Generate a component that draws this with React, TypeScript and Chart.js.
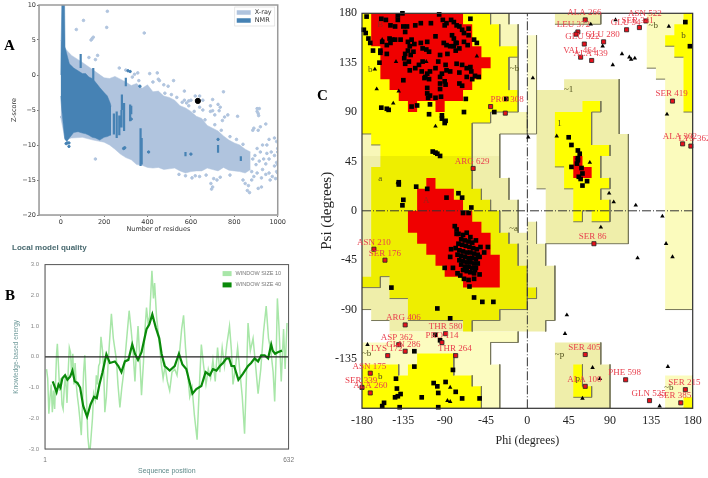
import React, { useEffect, useRef } from "react";
import { Chart, registerables } from "chart.js";

Chart.register(...registerables);

type P = number[];

// ---------- Panel A ----------
const aXTicks = [0, 200, 400, 600, 800, 1000];
const aYTicks = [10, 5, 0, -5, -10, -15, -20];
const xrayX = [0, 20, 50, 100, 150, 200, 225, 250, 275, 300, 325, 350, 375, 400, 425, 450, 475, 500, 525, 550, 575, 600, 625, 650, 675, 700, 725, 750, 775, 800, 825, 850, 875];
const xrayUpper = [5, 3.8, 2.8, 1.8, 0.7, -0.4, -0.5, -0.2, -0.6, -1, -1.5, -1.2, -1.9, -1.4, -2.4, -2.3, -3, -3.2, -3.6, -4.4, -4.7, -5.2, -5.9, -6.2, -7.2, -7.6, -8, -8.7, -9.3, -9.7, -10, -10.6, -11];
const xrayLower = [-6, -9.2, -9, -8.9, -9.3, -9.6, -10, -10.6, -11.3, -11.8, -12.1, -12.8, -12.9, -13.2, -13.3, -13.2, -13.5, -13.4, -13.3, -13.7, -14, -13.8, -13.7, -13.7, -13.3, -13.5, -13.7, -13.2, -13.6, -13.7, -13.8, -14, -13.5];
const xrayDots: P[] = [
  [105, 7.8], [72, 6.5], [215, 9.1], [212, 6.8], [385, 6], [145, 5.2], [140, 5], [150, 5.4], [170, 2.8], [160, 2.2],
  [130, 2.5], [270, 1], [300, 0.7], [355, 0.3], [340, 0.1], [410, 0.2], [445, 0.3], [330, -0.3], [360, -0.8], [520, -0.8],
  [450, -0.6], [455, -0.8], [425, -1], [475, -1.4], [495, -1.6], [570, -2.3], [750, -2.4], [620, -3], [640, -3], [655, -3.6],
  [600, -3.6], [590, -3.7], [580, -4], [570, -3.6], [700, -3.5], [725, -4.2], [690, -4.4], [735, -4.6], [640, -4.6], [655, -5],
  [690, -5.2], [700, -5.1], [730, -5.1], [710, -5.7], [755, -6], [770, -5.7], [745, -6.5], [815, -5.9], [905, -4.8], [915, -4.8],
  [905, -5.2], [910, -5.5], [912, -5.8], [890, -7.6], [885, -7.9], [920, -7.4], [945, -7], [910, -7.9], [985, -9], [960, -9.2],
  [995, -9.5], [1000, -10.5], [160, -12], [700, -16], [692, -15.5], [695, -16.3], [720, -15], [705, -14.8], [860, -16.5],
  [870, -16.8], [850, -15.5], [840, -15], [865, -15.8], [910, -16.2], [925, -16], [880, -15], [890, -14.5], [930, -13.5],
  [960, -14], [975, -14.5], [990, -14.8], [1000, -14], [985, -13], [945, -12.7], [960, -12], [920, -11], [905, -10.5], [930, -10],
  [950, -10], [970, -11], [985, -11.5], [995, -12.5], [1000, -11], [15, -6], [5, -6], [885, -12], [895, -11.5], [900, -12.8],
  [915, -12.3], [935, -12], [950, -11.2], [880, -13.8], [905, -14], [925, -14.7], [945, -14.2], [965, -15], [1000, -12.8], [995, -13.8],
  [480, -2.6], [510, -2.8], [535, -3.2], [560, -3.9], [590, -4.4], [615, -5.2], [665, -6.4], [710, -7.1], [740, -7.9], [780, -8.8],
  [810, -9.2], [840, -9.9], [605, -14.7], [620, -14.4], [575, -14.4], [640, -14.5], [545, -14.2], [670, -14.3], [735, -14.6], [780, -14.3],
];
const nmrX = [0, 5, 18, 20, 28, 40, 60, 80, 100, 115, 130, 145, 160, 180, 200, 215, 228, 232];
const nmrUpper = [0, 10, 10, 4, 3, 1.6, 1, 0.6, 0.2, 0.2, -0.3, -0.5, -1, -1.8, -2.5, -3, -4, -4.5];
const nmrLower = [-3, -5, -9, -9.2, -9.5, -9, -8.2, -8.1, -8.3, -8.4, -8.6, -8.9, -9, -9.3, -8.9, -8.8, -8.6, -8.6];
const nmrStreaks: (P | null)[] = [
  [92, 3], [92, 1], null, [245, -5.5], [245, -8.5], null, [258, -5.2], [258, -9], null, [270, -5.8], [270, -8.6], null,
  [282, -2.8], [282, -5], null, [292, -4], [292, -8], null, [300, -0.4], [300, -1.6], null, [320, -4.2], [320, -6.6], null,
  [325, -4.4], [325, -5.6], null, [280, -5], [280, -7.5], null, [368, -7.6], [368, -13], null, [373, -9], [373, -12.8], null,
  [725, -10], [725, -11.1], null, [830, -11.6], [830, -12.3], null, [575, -11], [575, -11.6], null, [150, 1], [150, -1], null,
];
const nmrDots: P[] = [
  [310, 0.6], [320, 0.5], [365, -1.6], [325, -6.3], [295, -10.4], [290, -10.5], [405, -11], [725, -9.2], [600, -11.3],
  [30, -9.7], [25, -9.8], [38, -10.2], [38, -9.7],
];
const targetPoint: P[] = [[632, -3.7]];
const aLegend: [string, string][] = [["X-ray", "#b0c4de"], ["NMR", "#4682b4"]];

// ---------- Panel B ----------
const bYTicks = [3, 2, 1, 0, -1, -2, -3];
const bXTicks = [1, 632];
const win10Res = [
  5, 8, 11, 14, 17, 20, 23, 26, 29, 31, 33, 36, 39, 42, 45, 48, 51, 54, 58, 61, 64, 67, 70, 73, 76, 79, 82, 85, 88, 92,
  95, 98, 101, 104, 108, 112, 115, 118, 121, 124, 127, 131, 134, 137, 140, 143, 146, 150, 153, 156, 160, 165, 173, 178, 186, 190, 195, 200, 206, 212,
  219, 224, 229, 234, 238, 242, 246, 251, 256, 260, 264, 268, 272, 278, 282, 285, 290, 296, 302, 307, 312, 318, 324, 330, 337, 343, 350, 355, 360, 365,
  371, 376, 382, 388, 395, 400, 406, 412, 418, 424, 430, 436, 442, 448, 454, 460, 466, 472, 479, 484, 488, 494, 500, 506, 512, 518, 523, 527, 533, 540,
  546, 553, 560, 567, 574, 580, 586, 592, 596, 600, 603, 607, 613, 619, 623, 628,
];
const win10Val = [
  -0.4, -0.7, -1.85, -1.3, -0.9, -1.8, -1.1, -1.7, -0.6, 0.1, 0.42, -0.3, -1.1, -0.7, -1.55, -1.7, -1, -0.6, -1.5, -0.5, 0.3, 0.15, -0.6, 0.1, -0.9, -0.2, -0.9, -1.3, -1.6, -2.1,
  -2.55, -1.6, -0.5, 0.05, -1.2, -2.6, -3, -3, -2.5, -2, -1.2, -1.4, -0.6, -0.9, -0.3, -0.2, 0.65, 0.2, -0.4, -1.8, -1.3, -0.1, 1.4, 0.6, -0.1, -0.9, -1.65, -1, -0.4, 0.5,
  1.5, 0.9, 0.2, -0.8, 0.2, 1, 0.1, -1.25, -0.2, 0.9, 1.6, 1.1, 1.3, 2.8, 1.9, 2.4, 1.3, 0.6, -0.2, -0.7, -0.3, -0.8, -1.1, -0.5, -0.4, -0.6, 0.2, 0.9, 1.35, 0.3,
  -0.6, -1.3, -1, -1.9, -2.7, -1.2, 0.4, -0.3, -0.9, -0.4, -0.7, -0.1, -0.8, 0.3, -0.5, 0.3, -0.3, 0.4, 1, 0.2, -0.9, -0.4, 0.3, -0.5, -1.3, -2.5, -0.6, 1.1, 0.2, 0.6,
  -0.2, -1.2, -0.4, 0.8, 1.65, 0.6, 0.2, -0.5, -1.45, 0.1, 1.9, 1, -0.8, 0.9, -0.4, 1.1,
];
const win40Res = [
  21, 27, 31, 36, 41, 46, 53, 59, 66, 72, 78, 85, 92, 100, 110, 119, 128, 135, 142, 150, 160, 169, 182, 191, 199, 208, 217, 227, 234, 242, 251, 257, 264, 271, 279, 288,
  297, 303, 311, 324, 337, 348, 357, 367, 376, 383, 393, 406, 417, 428, 436, 445, 454, 462, 471, 478, 484, 491, 502, 514, 527, 535, 544, 553, 561, 570, 579, 587, 591, 597, 604, 615,
];
const win40Val = [
  -0.8, -1, -1.15, -0.9, -1, -0.7, -0.6, -0.75, -0.65, -0.45, -0.8, -0.85, -1, -1.6, -1.95, -1.55, -1.3, -1.35, -0.9, -0.5, 0.08, -0.2, -0.15, -0.3, -0.5, -0.15, -0.1, 0.4, 0.1, -0.1, 0.15, 0.5, 0.9, 1.05, 1.38, 0.95,
  0.6, 0.1, -0.3, -0.45, -0.3, 0.1, -0.25, -0.4, -0.85, -1.2, -1.05, -0.95, -0.5, -0.6, -0.4, -0.45, -0.3, -0.2, -0.05, -0.05, -0.3, -0.3, -0.75, -0.55, -0.3, -0.2, -0.05, -0.15, 0.05, 0.05, -0.05, 0.4, 0.2, 0.1, 0.15, 0.2,
];
const zeroLine: P[] = [[1, 0], [632, 0]];
const bLegend: [string, string][] = [["WINDOW SIZE 10", "#a8e6a8"], ["WINDOW SIZE 40", "#0a8a0a"]];

// ---------- Panel C ----------
const cXTicks = [-180, -135, -90, -45, 0, 45, 90, 135, 180];
const cYTicks = [180, 135, 90, 45, 0, -45, -90, -135];
const paleTop: P[] = [[-180, 180], [-20, 180], [-20, 170], [-10, 170], [-10, 90], [0, 90], [0, 70], [-30, 70], [-30, 50], [-180, 50]];
const paleColumn: P[] = [[0, 160], [10, 160], [10, 70], [0, 70]];
const paleMid: P[] = [[-180, 50], [-30, 50], [-30, 30], [-20, 30], [-20, 10], [-10, 10], [-10, -20], [0, -20], [0, -10], [10, -10], [10, -30], [20, -30], [20, -50], [30, -50], [30, -100], [20, -100], [20, -110], [-150, -110], [-150, -100], [-170, -100], [-170, -90], [-180, -90]];
const paleBottom: P[] = [[-150, -110], [-10, -110], [-10, -120], [-40, -120], [-40, -140], [-30, -140], [-30, -180], [-180, -180], [-180, -120], [-150, -120]];
const paleOne: P[] = [[40, 120], [100, 120], [100, 70], [110, 70], [110, -30], [20, -30], [20, 20], [10, 20], [10, 110], [40, 110]];
const paleRight: P[] = [[130, 180], [180, 180], [180, -90], [150, -90], [150, 120], [140, 120], [140, 130], [130, 130]];
const paleTopCentre: P[] = [[30, 180], [80, 180], [80, 170], [30, 170]];
const paleP: P[] = [[30, -120], [80, -120], [80, -140], [90, -140], [90, -180], [30, -180]];
const paleCorner: P[] = [[150, -150], [180, -150], [180, -180], [150, -180]];
const yellowTop: P[] = [[-180, 180], [-40, 180], [-40, 170], [-30, 170], [-30, 150], [-10, 150], [-10, 140], [-20, 140], [-20, 110], [-10, 110], [-10, 90], [-40, 90], [-40, 80], [-60, 80], [-60, 50], [-160, 50], [-160, 60], [-170, 60], [-170, 70], [-180, 70]];
const yellowMid: P[] = [[-160, 50], [-60, 50], [-60, 20], [-50, 20], [-50, 10], [-40, 10], [-40, 0], [-30, 0], [-30, -20], [-20, -20], [-20, -30], [-10, -30], [-10, -50], [0, -50], [0, -90], [-30, -90], [-30, -100], [-60, -100], [-60, -110], [-70, -110], [-70, -100], [-130, -100], [-130, -80], [-150, -80], [-150, -60], [-160, -60], [-160, -70], [-180, -70], [-180, -60], [-170, -60], [-170, 40], [-160, 40]];
const yellowLow: P[] = [[-180, -140], [-140, -140], [-140, -150], [-130, -150], [-130, -140], [-120, -140], [-120, -130], [-80, -130], [-80, -150], [-60, -150], [-60, -160], [-50, -160], [-50, -180], [-180, -180]];
const yellowOne: P[] = [[60, 100], [80, 100], [80, 90], [70, 90], [70, 60], [90, 60], [90, 50], [80, 50], [80, 30], [90, 30], [90, 20], [80, 20], [80, 10], [90, 10], [90, -10], [70, -10], [70, 0], [60, 0], [60, -10], [50, -10], [50, 20], [40, 20], [40, 40], [30, 40], [30, 90], [60, 90]];
const yellowRight: P[] = [[170, 180], [180, 180], [180, 90], [170, 90], [170, 140], [160, 140], [160, 150], [150, 150], [150, 160], [160, 160], [160, 170], [170, 170]];
const yellowTab: P[] = [[0, -70], [10, -70], [10, -80], [0, -80]];
const yellowP: P[] = [[50, -140], [60, -140], [60, -160], [70, -160], [70, -170], [50, -170]];
const yellowCorner: P[] = [[170, -170], [180, -170], [180, -180], [170, -180]];
const redB: P[] = [[-170, 180], [-70, 180], [-70, 170], [-60, 170], [-60, 150], [-50, 150], [-50, 140], [-40, 140], [-40, 130], [-50, 130], [-50, 120], [-60, 120], [-60, 110], [-70, 110], [-70, 100], [-90, 100], [-90, 90], [-100, 90], [-100, 100], [-120, 100], [-120, 90], [-130, 90], [-130, 100], [-140, 100], [-140, 110], [-150, 110], [-150, 120], [-160, 120], [-160, 150], [-170, 150]];
const redA: P[] = [[-110, 30], [-100, 30], [-100, 20], [-80, 20], [-80, 10], [-70, 10], [-70, 0], [-60, 0], [-60, -10], [-50, -10], [-50, -20], [-40, -20], [-40, -40], [-30, -40], [-30, -70], [-70, -70], [-70, -60], [-90, -60], [-90, -50], [-100, -50], [-100, -40], [-110, -40], [-110, -30], [-120, -30], [-120, -20], [-130, -20], [-130, 0], [-120, 0], [-120, 20], [-110, 20]];
const redOne: P[] = [[50, 50], [60, 50], [60, 40], [70, 40], [70, 30], [50, 30]];

const blackSquares: P[] = [
  [-175, 177], [-178, 165], [-176, 162], [-173, 157], [-171, 153], [-168, 146], [-160, 146], [-161, 135], [-159, 94], [-153, 93], [-151, 92],
  [-103, 54], [-100, 53], [-98, 52], [-95, 50], [-140, 26], [-140, 24], [-121, 22], [-109, 20], [-135, 10], [-136, 5], [-75, 16], [-88, 12], [-71, 12], [-61, 3], [-70, -2], [-64, -2],
  [-93, 87], [-93, 84], [-89, 82], [-90, 80], [-107, 88], [-120, 96], [-126, 95], [-106, 97], [-69, 90], [-67, 102], [-23, 102], [-36, 90], [-62, 175],
  [-148, -70], [-98, -89], [-84, -98], [-58, -79], [-49, -83], [-37, -83], [-100, -113], [-95, -118], [-123, -128], [-123, -142], [-81, -145], [-143, -153], [-142, -162], [-138, -167], [-144, -170], [-141, -169],
  [-156, -175], [-158, -178], [-139, -179], [-115, -170], [-102, -157], [-98, -160], [-97, -166], [-89, -156], [-78, -165], [-71, -171], [-52, -171], [-97, -179],
  [172, 172], [177, 150], [45, 67], [48, 60], [55, 55], [57, 52], [55, 48], [54, 43], [48, 40], [59, 39], [60, 34], [56, 31], [58, 29], [65, 27], [60, 23], [55, 46],
  [-141, 178], [-136, 180], [-96, 179], [-159, 175], [-154, 174], [-141, 174], [-116, 171], [-122, 169], [-105, 171], [-92, 174], [-88, 171], [-83, 174], [-80, 172], [-77, 169], [-74, 168], [-90, 169],
  [-149, 169], [-144, 168], [-135, 168], [-131, 168], [-133, 163], [-71, 165], [-69, 162], [-64, 166], [-82, 160], [-100, 159], [-109, 154], [-80, 157], [-78, 153], [-64, 160],
  [-158, 154], [-150, 157], [-147, 156], [-144, 156], [-138, 156], [-149, 153], [-153, 151], [-130, 154], [-126, 156], [-128, 150], [-123, 152], [-116, 153], [-114, 148], [-110, 147], [-107, 145], [-130, 146], [-133, 143], [-134, 139], [-127, 142], [-124, 145],
  [-91, 153], [-88, 151], [-84, 150], [-80, 150], [-77, 153], [-74, 148], [-78, 146], [-69, 154], [-65, 151], [-58, 156], [-55, 153], [-87, 143], [-95, 142], [-153, 143], [-160, 144],
  [-133, 134], [-129, 136], [-114, 136], [-118, 133], [-97, 136], [-100, 130], [-77, 134], [-71, 133], [-66, 130], [-62, 131], [-89, 133], [-61, 127], [-57, 123], [-66, 122], [-74, 126], [-84, 127], [-88, 128], [-93, 125], [-95, 122], [-106, 127], [-109, 125], [-111, 122],
  [-128, 128], [-122, 130], [-115, 127], [-112, 121], [-107, 120], [-135, 119], [-60, 120], [-53, 122], [-90, 118], [-95, 116], [-89, 115], [-109, 112], [-95, 111], [-74, 116], [-71, 114], [-109, 107], [-106, 105], [-100, 103], [-94, 104], [-108, 103],
  [-79, -14], [-77, -17], [-75, -21], [-77, -21], [-83, -35], [-84, -42], [-90, -52], [-81, -52], [-76, -57], [-73, -59], [-69, -62], [-64, -63], [-58, -62], [-63, -69], [-52, -58], [-43, -33], [-47, -38], [-57, -54],
  [-70, -22], [-66, -20], [-62, -24], [-72, -26], [-68, -27], [-64, -28], [-60, -29], [-56, -27], [-75, -30], [-71, -31], [-67, -32], [-63, -33], [-59, -34], [-55, -35], [-51, -33], [-78, -34], [-74, -36], [-70, -37], [-66, -38], [-62, -38], [-58, -39], [-54, -40],
  [-76, -40], [-72, -41], [-68, -42], [-64, -43], [-60, -43], [-56, -44], [-52, -42], [-74, -45], [-70, -46], [-66, -47], [-62, -47], [-58, -48], [-54, -48], [-72, -49], [-68, -51], [-64, -51], [-60, -52], [-56, -52], [-66, -55], [-62, -56], [-58, -57], [-70, -54],
];
const blackTriangles: P[] = [
  [-174, -122], [-84, -161], [-87, -173], [-84, -174], [-158, 156], [-166, 129], [-143, 136], [-110, 136], [-164, 111], [-146, 98], [-140, 109], [-100, 77], [-141, 26], [-55, 141],
  [6, 121], [1, 67], [32, 68], [68, 44], [89, 16], [94, 8], [118, 5], [147, -5], [96, 174], [69, 170], [103, 143], [111, 140], [113, 138], [117, 139], [93, 133], [82, 150], [154, 168], [152, 88],
  [80, -15], [151, -30], [120, -43], [158, -42], [43, -95], [41, -112], [71, -143], [79, -153], [60, -171], [153, -142], [144, -178],
];
const redSquares: P[] = [
  [-40, 95], [-24, 89], [-59, 38.6], [63, 174], [55, 163], [53, 161], [62, 152], [83, 154], [58, 140], [70, 137], [129, 173], [108, 165], [122, 167], [158, 100], [169, 61], [178, 59],
  [-167, -35], [-155, -45], [-133, -104], [-89, -112], [-93, -120], [-140, -122], [-133, -128], [-152, -132], [-78, -132], [-171, -148], [-180, -161], [-171, -166],
  [72.5, -30], [63, -131], [63, -160], [107, -154], [133, -173], [172, -163], [167, -175],
];
const residueLabels: [string, number, number][] = [
  ["PRO 308", -22, 95], ["ARG 629", -60, 38.6], ["ALA 266", 62, 174], ["LEU 372", 50, 163], ["GLU 322", 60, 152], ["GLU 280", 82, 154],
  ["VAL 464", 57, 140], ["ALA 439", 69, 137], ["ASN 522", 128, 173], ["GLU 54", 107, 165], ["SER 341", 120, 167], ["SER 419", 157, 100],
  ["ALA 302", 166, 61], ["LYS 362", 182, 59], ["ASN 210", -167, -35], ["SER 176", -155, -45], ["ARG 406", -135, -104], ["THR 580", -89, -112],
  ["PRO 114", -93, -120], ["ASP 362", -142, -122], ["GLN 286", -135, -128], ["LYS 172", -153, -132], ["THR 264", -79, -132], ["ASN 175", -172, -148],
  ["SER 339", -181, -161], ["ALA 260", -171, -166], ["SER 86", 71, -30], ["SER 405", 62, -131], ["ALA 100", 62, -160], ["PHE 598", 106, -154],
  ["GLN 525", 132, -173], ["SER 215", 171, -163], ["SER 385", 161, -175],
];
const regionLabels: [string, number, number][] = [
  ["B", -160, 170], ["b", -171, 129], ["A", -110, 9], ["a", -160, 29], ["~b", -14, 130], ["~a", -15, -16], ["b", 170, 160], ["~b", 137, 169],
  ["~1", 45, 110], ["1", 35, 79], ["~p", 35, -131], ["p", 55, -153], ["~b", -175, -130], ["b", -160, -151], ["~b", 154, -161],
];
const axisPhi: P[] = [[0, -180], [0, 180]];
const axisPsi: P[] = [[-180, 0], [180, 0]];

// ---------- helpers ----------
const pts = (a: (P | null)[]) => a.map((p) => (p ? { x: p[0], y: p[1] } : { x: NaN, y: NaN }));
const zip = (xs: number[], ys: number[]) => xs.map((x, i) => ({ x, y: ys[i] }));
const band = (xs: number[], up: number[], low: number[], color: string, label: string) => [
  { label, data: zip(xs, up), showLine: true, fill: "+1", backgroundColor: color, borderColor: color, borderWidth: 0.5, pointRadius: 0 },
  { label: label + " lower", data: zip(xs, low), showLine: true, fill: false, backgroundColor: color, borderColor: color, borderWidth: 0.5, pointRadius: 0 },
];
const poly = (a: P[], color: string, label = "") => ({
  label,
  data: pts(a),
  polyColor: color,
  showLine: false,
  backgroundColor: color,
  borderColor: color,
  pointRadius: 0,
});
const polygonFill = {
  id: "polygonFill",
  beforeDatasetDraw(chart: any, args: any) {
    const ds = chart.data.datasets[args.index];
    if (!ds.polyColor) return;
    const { ctx, chartArea: a, scales } = chart;
    ctx.save();
    ctx.beginPath();
    ctx.rect(a.left, a.top, a.right - a.left, a.bottom - a.top);
    ctx.clip();
    ctx.beginPath();
    ds.data.forEach((d: any, i: number) => {
      const px = scales.x.getPixelForValue(d.x);
      const py = scales.y.getPixelForValue(d.y);
      if (i) ctx.lineTo(px, py);
      else ctx.moveTo(px, py);
    });
    ctx.closePath();
    ctx.fillStyle = ds.polyColor;
    ctx.fill();
    ctx.restore();
  },
};
const SEAMS = [50, -110];
const edge = (a: P[]) => ({
  data: pts([...a, a[0]]),
  showLine: true,
  fill: false,
  borderWidth: 1,
  borderColor: "rgba(0,0,0,0)",
  pointRadius: 0,
  segment: {
    borderColor: (c: any) => {
      const x0 = c.p0.parsed.x, x1 = c.p1.parsed.x, y0 = c.p0.parsed.y, y1 = c.p1.parsed.y;
      if (y0 === y1 && SEAMS.includes(y0)) return "rgba(0,0,0,0)";
      return y1 < y0 || x1 < x0 ? "#77775a" : "rgba(0,0,0,0)";
    },
  },
});
const frame = (color: string, width: number) => ({
  id: "frame",
  afterDatasetsDraw(chart: any) {
    const { ctx, chartArea: a } = chart;
    ctx.save();
    ctx.strokeStyle = color;
    ctx.lineWidth = width;
    ctx.strokeRect(a.left, a.top, a.right - a.left, a.bottom - a.top);
    ctx.restore();
  },
});
const texts = (id: string, items: [string, number, number][], font: string, color: (t: string) => string, dy: number) => ({
  id,
  afterDatasetsDraw(chart: any) {
    const { ctx, scales } = chart;
    ctx.save();
    ctx.font = font;
    ctx.textAlign = "center";
    ctx.textBaseline = "middle";
    for (const [t, x, y] of items) {
      ctx.fillStyle = color(t);
      ctx.fillText(t, scales.x.getPixelForValue(x), scales.y.getPixelForValue(y) + dy);
    }
    ctx.restore();
  },
});
const cornerLegend = (items: [string, string][], o: any) => ({
  id: "cornerLegend",
  afterDatasetsDraw(chart: any) {
    const { ctx, chartArea: a } = chart;
    ctx.save();
    if (o.box) {
      ctx.fillStyle = "rgba(255,255,255,0.85)";
      ctx.strokeStyle = "#ddd";
      ctx.lineWidth = 0.7;
      ctx.fillRect(a.right - o.box[0], a.top + 2, o.box[0] - 3, o.box[1]);
      ctx.strokeRect(a.right - o.box[0], a.top + 2, o.box[0] - 3, o.box[1]);
    }
    ctx.font = o.font;
    ctx.textBaseline = "middle";
    items.forEach(([t, c], i) => {
      const y = a.top + o.top + i * o.step;
      ctx.fillStyle = c;
      ctx.fillRect(a.right - o.swatchX, y - o.swatchH / 2, o.swatchW, o.swatchH);
      ctx.fillStyle = o.color;
      ctx.fillText(t, a.right - o.swatchX + o.swatchW + o.gap, y);
    });
    ctx.restore();
  },
});
const setTicks = (arr: number[]) => (s: any) => {
  s.ticks = arr.map((value) => ({ value }));
};
const fitW = (w: number) => (s: any) => { s.width = w; };
const fitH = (h: number) => (s: any) => { s.height = h; };

const configA = () => ({
  type: "scatter",
  data: {
    datasets: [
      { label: "target", data: pts(targetPoint), backgroundColor: "#000", borderColor: "#000", pointRadius: 2.6, clip: false },
      { label: "nmrDots", data: pts(nmrDots), backgroundColor: "#4682b4", borderColor: "#4682b4", pointRadius: 1.2 },
      { label: "streaks", data: pts(nmrStreaks), showLine: true, spanGaps: false, borderColor: "#4682b4", borderWidth: 2.2, pointRadius: 0 },
      ...band(nmrX, nmrUpper, nmrLower, "#4682b4", "NMR"),
      { label: "xrayDots", data: pts(xrayDots), backgroundColor: "#b0c4de", borderColor: "#b0c4de", pointRadius: 1.3 },
      ...band(xrayX, xrayUpper, xrayLower, "#b0c4de", "X-ray"),
    ],
  },
  options: {
    animation: false, responsive: false,
    layout: { padding: { top: 5, right: 2, left: 0, bottom: 0 } },
    plugins: { title: { display: false }, tooltip: { enabled: false }, legend: { display: false } },
    scales: {
      x: {
        type: "linear", min: -100, max: 1000, afterBuildTicks: setTicks(aXTicks), afterFit: fitH(18),
        grid: { drawOnChartArea: false, tickLength: 2, color: "#777" },
        ticks: { autoSkip: false, maxRotation: 0, padding: 1, color: "#333", font: { family: "DejaVu Sans", size: 6.5 }, callback: (v: number) => String(v) },
        title: { display: true, text: "Number of residues", color: "#333", padding: 0, font: { family: "DejaVu Sans", size: 6.5 } },
      },
      y: {
        type: "linear", min: -20, max: 10, afterBuildTicks: setTicks(aYTicks), afterFit: fitW(29),
        grid: { drawOnChartArea: false, tickLength: 2, color: "#777" },
        ticks: { autoSkip: false, padding: 1, color: "#333", font: { family: "DejaVu Sans", size: 6.5 }, callback: (v: number) => String(v).replace("-", "\u2212") },
        title: { display: true, text: "Z-score", color: "#333", padding: 0, font: { family: "DejaVu Sans", size: 6.5 } },
      },
    },
  },
  plugins: [
    frame("#9a9a9a", 1.5),
    cornerLegend(aLegend, { box: [43, 19], top: 7.5, step: 8, swatchX: 41, swatchW: 14, swatchH: 4.5, gap: 4, font: "6.5px 'DejaVu Sans'", color: "#333" }),
  ],
});

const configB = () => ({
  type: "scatter",
  data: {
    datasets: [
      { label: "zero", data: pts(zeroLine), showLine: true, borderColor: "#222", borderWidth: 1.2, pointRadius: 0 },
      { label: "WINDOW SIZE 40", data: zip(win40Res, win40Val), showLine: true, borderColor: "#0a8a0a", backgroundColor: "#0a8a0a", borderWidth: 2.2, pointRadius: 0 },
      { label: "WINDOW SIZE 10", data: zip(win10Res, win10Val), showLine: true, borderColor: "#a8e6a8", backgroundColor: "#a8e6a8", borderWidth: 1.5, pointRadius: 0 },
    ],
  },
  options: {
    animation: false, responsive: false,
    layout: { padding: { top: 0, right: 12, left: 0, bottom: 0 } },
    plugins: {
      tooltip: { enabled: false },
      legend: { display: false },
      title: { display: true, text: "Local model quality", align: "start", color: "#48696f", padding: { top: 7, bottom: 12 }, font: { family: "Liberation Sans", size: 8, weight: "bold" } },
    },
    scales: {
      x: {
        type: "linear", min: 1, max: 632, afterBuildTicks: setTicks(bXTicks), afterFit: fitH(26),
        grid: { display: false, drawTicks: false },
        ticks: { autoSkip: false, maxRotation: 0, padding: 7, color: "#777", font: { family: "Liberation Sans", size: 6.5 }, callback: (v: number) => String(v) },
        title: { display: true, text: "Sequence position", color: "#5f8a8a", padding: 0, font: { family: "Liberation Sans", size: 7 } },
      },
      y: {
        type: "linear", min: -3, max: 3, afterBuildTicks: setTicks(bYTicks), afterFit: fitW(33),
        grid: { display: false, drawTicks: false },
        ticks: { autoSkip: false, padding: 6, color: "#888", font: { family: "Liberation Sans", size: 6 }, callback: (v: number) => v.toFixed(1) },
        title: { display: true, text: "Knowledge-based energy", color: "#6f9a9a", padding: 0, font: { family: "Liberation Sans", size: 6.5 } },
      },
    },
  },
  plugins: [
    frame("#555", 1),
    cornerLegend(bLegend, { top: 9, step: 11.3, swatchX: 66, swatchW: 9, swatchH: 5, gap: 4, font: "5.5px 'Liberation Sans'", color: "#777" }),
  ],
});

const configC = () => {
  const fills = [
    poly(paleTop, "#f8f7b8"), poly(paleColumn, "#fbfbcb"), poly(paleMid, "#efeeaa"), poly(paleBottom, "#fcfcc0"),
    poly(paleOne, "#efeeaa"), poly(paleRight, "#fbfbbd"), poly(paleTopCentre, "#efeeaa"), poly(paleP, "#efeeaa"), poly(paleCorner, "#fbfbbd"),
    edge(paleTop), edge(paleColumn), edge(paleMid), edge(paleBottom), edge(paleOne), edge(paleRight), edge(paleTopCentre), edge(paleP), edge(paleCorner),
    poly(yellowTop, "#ffff00"), poly(yellowMid, "#eeee00"), poly(yellowLow, "#ffff00"), poly(yellowOne, "#ffff00"), poly(yellowRight, "#ffff00"),
    poly(yellowTab, "#eeee00"), poly(yellowP, "#ffff00"), poly(yellowCorner, "#ffff00"),
    edge(yellowTop), edge(yellowMid), edge(yellowLow), edge(yellowOne), edge(yellowRight), edge(yellowTab), edge(yellowP), edge(yellowCorner),
    poly(redB, "#f00000"), poly(redA, "#f00000"), poly(redOne, "#f00000"),
  ];
  const marks = [
    { data: pts(axisPhi), showLine: true, borderColor: "#333", borderWidth: 1, borderDash: [9, 2, 1, 2], pointRadius: 0 },
    { data: pts(axisPsi), showLine: true, borderColor: "#333", borderWidth: 1, borderDash: [9, 2, 1, 2], pointRadius: 0 },
    { data: pts(blackTriangles), pointStyle: "triangle", pointRadius: 2.6, backgroundColor: "#000", borderColor: "#000", borderWidth: 0, clip: false },
    { data: pts(blackSquares), pointStyle: "rect", pointRadius: 3.3, backgroundColor: "#000", borderColor: "#000", borderWidth: 0, clip: false },
    { data: pts(redSquares), pointStyle: "rect", pointRadius: 2.9, backgroundColor: "#e8101c", borderColor: "#222", borderWidth: 0.8, clip: false },
  ];
  return {
    type: "scatter",
    data: { datasets: [...marks.reverse(), ...fills.reverse()] },
    options: {
      animation: false, responsive: false,
      layout: { padding: { top: 13.3, right: 15.3, left: 0, bottom: 0 } },
      plugins: { legend: { display: false }, title: { display: false }, tooltip: { enabled: false } },
      scales: {
        x: {
          type: "linear", min: -180, max: 180, afterBuildTicks: setTicks(cXTicks), afterFit: fitH(41.7),
          grid: { display: false, drawTicks: false },
          ticks: { autoSkip: false, maxRotation: 0, padding: 5, color: "#222", font: { family: "Liberation Serif", size: 12 }, callback: (v: number) => String(v) },
          title: { display: true, text: "Phi (degrees)", color: "#222", padding: { top: 0, bottom: 2 }, font: { family: "Liberation Serif", size: 12 } },
        },
        y: {
          type: "linear", min: -180, max: 180, afterBuildTicks: setTicks(cYTicks), afterFit: fitW(44),
          grid: { display: false, drawTicks: false },
          ticks: { autoSkip: false, padding: 5, color: "#222", font: { family: "Liberation Serif", size: 12 }, callback: (v: number) => String(v) },
          title: { display: true, text: "Psi (degrees)", color: "#222", padding: 0, font: { family: "Liberation Serif", size: 15 } },
        },
      },
    },
    plugins: [
      polygonFill,
      frame("#333", 1.2),
      texts("regions", regionLabels, "9px 'Liberation Serif'", (t) => (t === "A" || t === "B" ? "#a02018" : "#50501c"), 0),
      texts("residues", residueLabels, "9px 'Liberation Serif'", () => "#e8404e", -7),
    ],
  };
};

function Panel({ make, left, top, width, height, blur }: any) {
  const ref = useRef<HTMLCanvasElement>(null);
  useEffect(() => {
    const chart = new Chart(ref.current as any, make() as any);
    return () => chart.destroy();
  }, []);
  return (
    <canvas
      ref={ref}
      width={width}
      height={height}
      style={{ position: "absolute", left, top, width, height, filter: `blur(${blur}px)` }}
    />
  );
}

const letter = (x: number, y: number): React.CSSProperties => ({
  position: "absolute", left: x, top: y, font: "bold 15px 'Liberation Serif'", color: "#000", lineHeight: "15px",
});

export default function App() {
  return (
    <div style={{ position: "fixed", left: 0, top: 0, width: 708, height: 478, background: "#fff", overflow: "hidden" }}>
      <Panel make={configA} left={10} top={0} width={277} height={233} blur={0.45} />
      <Panel make={configB} left={12} top={236} width={289} height={239} blur={0.45} />
      <Panel make={configC} left={318} top={0} width={390} height={450} blur={0.3} />
      <div style={letter(4, 38)}>A</div>
      <div style={letter(5, 288)}>B</div>
      <div style={letter(317, 88)}>C</div>
    </div>
  );
}
